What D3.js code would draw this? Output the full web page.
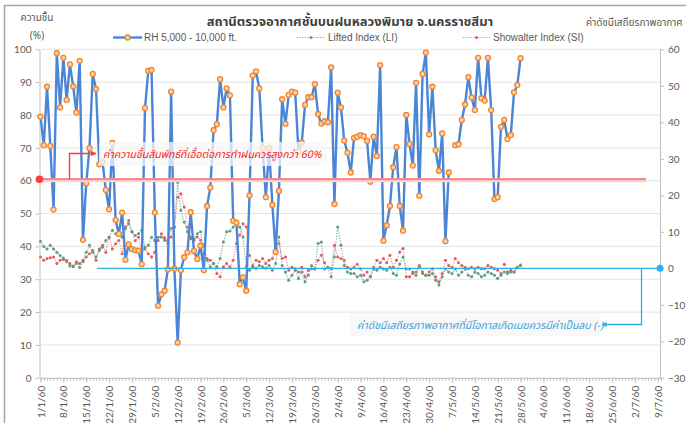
<!DOCTYPE html>
<html>
<head>
<meta charset="utf-8">
<script src="https://cdn.jsdelivr.net/npm/d3@7"></script>
<style>
  body { margin: 0; background: #fff; }
  svg { display: block; font-family: "Liberation Sans", Tahoma, "Noto Sans Thai", sans-serif; }
  .axis text { fill: #595959; font-size: 10px; }
  .axis path, .axis line { stroke: #bfbfbf; }
</style>
</head>
<body>
<svg id="chart"></svg>
<script>
const chartSize = { width: 686, height: 423 };
const plot = { left: 40.5, right: 661, top: 49.3, bottom: 377.8 };

// one value per day starting 1/1/60 (index 0)
const rh = [79.5, 70.8, 88.6, 70.6, 51.2, 98.8, 82.3, 97.4, 84.6, 95.4,
  88.7, 80.7, 96.5, 42, 59.2, 69.9, 92.5, 87.9, 65, 65.7,
  57.2, 51.3, 71.5, 48, 43.8, 50.3, 35.9, 40.6, 39.2, 38.8,
  38.7, 34.6, 82.1, 93.4, 93.7, 50.3, 21.9, 25.4, 26.5, 33,
  87.1, 33.2, 10.7, 32.8, 36.7, 38.2, 50.4, 38.6, 36.2, 40.2,
  32.8, 52.3, 57.9, 75.4, 77.2, 90.9, 82.3, 88.1, 86, 47.8,
  47.2, 28.5, 30.6, 26.5, 55.5, 92, 93.3, 88.1, 69.9, 55,
  69.9, 52.6, 38.3, 56.9, 84.8, 77.3, 86.1, 87.1, 86.8, 68.9,
  71.6, 83.1, 85.4, 85.4, 89.4, 80.3, 77.4, 78.1, 77.8, 94.5,
  52.9, 86.8, 82.3, 72.2, 68.5, 62.5, 73, 73.4, 73.9, 73.5,
  72.1, 59.7, 73.4, 67.5, 95.2, 41.7, 46.4, 52.3, 64.1, 70.2,
  52.3, 44.8, 80, 71.2, 64.6, 89.8, 55.4, 92.5, 99, 74.1,
  88.6, 69.3, 63, 74.4, 41.6, 62.5, null, 70.8, 71.1, 78.5,
  83.2, 91.5, 85.3, 81.5, 97.4, 85.1, 84.4, 97.4, 81.5, 54.4,
  55, 76.4, 78.5, 72.7, 73.9, 86.9, 89.1, 97.3];

const li = [7.4, 6, 5.3, 6.3, 5.3, 4.4, 3.5, 2.8, 2.2, 0.6,
  0.4, 1.3, 0.2, 2.2, 4.4, 6.3, 4.4, 3.1, 4.9, 5.8,
  7.6, 8.5, 10.4, 9.5, 10, 8.5, 10.9, 12.2, 10, 9,
  9.5, 10.4, 5.8, 6.3, 8.5, 7.6, 8.5, 8.6, 7.7, 6.8,
  10.9, 11.3, 23.6, 15.9, 12.7, 10, 8.6, 8.1, 9.5, 10,
  4, 2.2, 0.4, 1.3, 0.4, 2.7, 7.2, 10, 10.2, 11.3,
  12.2, 11.3, 8.6, 0.4, -0.5, 0.4, 0, 0.8, 0.4, 0,
  0.8, -0.5, 1.3, 8.6, 0.8, -1, -3.3, -1.9, -0.5, -2.8,
  -1, -3.7, -1.9, 0.8, -0.2, 6.8, 7.2, -0.2, 0.3, -2.3,
  3.1, 11.3, 6.3, 0.8, -1, -1.4, -1.4, -2.3, -1.9, -3.7,
  -3.3, -2.3, -0.2, -0.5, 0.3, -0.2, -0.5, 0.3, -1.4, -1.9,
  1.2, 3.1, -0.2, -0.2, -1, -1.9, 0.3, -1, -1.9, -1.9,
  -1.4, -3.3, -4.6, -2.3, -0.2, -1, -1.4, -0.2, -1.9, -1,
  -0.2, -1.9, -2.3, -1, -1.4, -2.3, -1.9, -1, -1.4, -1.9,
  -2.8, -1.9, -1, -1.4, -1, -1, 0.3, 0.8];

const si = [3.1, 2.2, 2.7, 2.9, 3.1, 1.3, 2.2, 2.4, 1.8, 1.3,
  0.6, 1.8, 1.3, 1.8, 3.1, 4, 4.9, 2.2, 5.3, 6.3,
  4.4, 8.5, 5.3, 6.7, 7.6, 4, 11.3, 13.1, 10, 7.6,
  8.5, 4.9, 5.3, 4, 3.1, 4.4, 7.6, 9.5, 8.4, 7.7,
  8.6, 11.3, 19.5, 20.4, 16.8, 11.3, 8.1, 7.7, 8.6, 7.7,
  6.3, 2.7, 2.2, 1.3, -1.4, -2.3, 0.4, 1.3, 0.4, 2.2,
  6.8, 9.1, 12.2, 11.3, 3.5, 0.8, 2.2, 1.8, 2.7, 1.3,
  2.2, 2.7, 5.3, 6.8, 2.7, 3.1, -0.5, 0.3, -0.1, -1,
  0.3, -2.3, -0.5, -0.1, -0.1, 2.2, 3.6, 1.5, 0.3, -0.1,
  6.3, 3.1, 2.7, 2.2, 0.3, -0.2, 0.3, 1.1, -0.1, -1.9,
  -1, -2.3, 0.3, 2.2, 1.5, 2.7, 1.5, 3.6, 0.3, 2.2,
  4.5, 5.4, -2.3, -2.3, -1.4, -1, 0.8, -1.4, -1.9, -1,
  -0.1, -2.3, -3.7, -1.4, 2.2, 0.8, 0.3, 2.7, 1.5, 0.8,
  0.3, -0.1, 0.3, -0.1, 0.3, -0.1, -0.1, 0.8, 0.3, -0.1,
  -0.5, -1.4, 1.1, -1, -0.5, -1, 0.3, 0.9];

const dayCount = 190;
const tickLabels = ["1/1/60", "8/1/60", "15/1/60", "22/1/60", "29/1/60", "5/2/60", "12/2/60",
  "19/2/60", "26/2/60", "5/3/60", "12/3/60", "19/3/60", "26/3/60", "2/4/60", "9/4/60",
  "16/4/60", "23/4/60", "30/4/60", "7/5/60", "14/5/60", "21/5/60", "28/5/60", "4/6/60",
  "11/6/60", "18/6/60", "25/6/60", "2/7/60", "9/7/60"];
const leftTicks = [0, 10, 20, 30, 40, 50, 60, 70, 80, 90, 100];
const rightTicks = [-30, -20, -10, 0, 10, 20, 30, 40, 50, 60];
const rhThreshold = 60;

const colors = { rh: "#4b86d6", marker: "#f0852d", markerFill: "#fbd2ac",
  li: "#72ab9c", liDot: "#5e9c86", si: "#f08c8c", siDot: "#e55a5a",
  red: "#ff3b3b", cyan: "#2db1e6" };

const thaiFont = "Tahoma, 'Noto Sans Thai', 'Leelawadee UI', sans-serif";

const x = d3.scaleLinear().domain([0, dayCount]).range([plot.left, plot.right]);
const yL = d3.scaleLinear().domain([0, 100]).range([plot.bottom, plot.top]);
const yR = d3.scaleLinear().domain([-30, 60]).range([plot.bottom, plot.top]);

const svg = d3.select("#chart")
  .attr("width", chartSize.width)
  .attr("height", chartSize.height);

const defs = svg.append("defs");
const arrow = (id, color) =>
  defs.append("marker").attr("id", id)
    .attr("viewBox", "0 0 10 10").attr("refX", 9).attr("refY", 5)
    .attr("markerWidth", 4).attr("markerHeight", 4).attr("orient", "auto")
    .append("path").attr("d", "M0,0L10,5L0,10Z").attr("fill", color);
arrow("arrRed", colors.red);
arrow("arrCyan", colors.cyan);

svg.append("rect")
  .attr("x", 4.5).attr("y", 5.5).attr("width", 690).attr("height", 430)
  .attr("fill", "#fff").attr("stroke", "#a6a6a6").attr("stroke-width", 1.5);

// gridlines
svg.append("g").selectAll("line").data(leftTicks.slice(1)).join("line")
  .attr("x1", plot.left).attr("x2", x(dayCount))
  .attr("y1", d => yL(d)).attr("y2", d => yL(d))
  .attr("stroke", "#e3e3e3");

// axes
svg.append("g").attr("class", "axis")
  .attr("transform", `translate(${plot.left - 1},0)`)
  .call(d3.axisLeft(yL).tickValues(leftTicks).tickSize(4).tickPadding(4).tickSizeOuter(0));

svg.append("g").attr("class", "axis")
  .attr("transform", `translate(${x(dayCount) - 1},0)`)
  .call(d3.axisRight(yR).tickValues(rightTicks).tickSize(4).tickPadding(4).tickSizeOuter(0));

svg.append("g").attr("class", "axis")
  .attr("transform", `translate(0,${plot.bottom})`)
  .call(d3.axisBottom(x).tickValues(d3.range(0, dayCount + 1)).tickSize(3).tickFormat("").tickSizeOuter(0));

const gBottom = svg.append("g").attr("class", "axis")
  .attr("transform", `translate(0,${plot.bottom})`)
  .call(d3.axisBottom(x).tickValues(tickLabels.map((_, i) => i * 7))
    .tickSize(5).tickSizeOuter(0).tickFormat(d => tickLabels[d / 7]));
gBottom.select(".domain").remove();
gBottom.selectAll("text")
  .attr("transform", "rotate(-90)")
  .attr("x", -8).attr("y", 0).attr("dy", "0.35em")
  .attr("text-anchor", "end");
svg.selectAll(".axis text").attr("font-family", "Lato, 'Liberation Sans', sans-serif");

// series
const series = svg.append("g");
const toPts = arr => arr.map((v, i) => ({ i, v }));

const siPts = toPts(si);
series.append("path")
  .attr("d", d3.line().x(d => x(d.i)).y(d => yR(d.v))(siPts))
  .attr("fill", "none").attr("stroke", colors.si).attr("stroke-width", 1.1)
  .attr("stroke-dasharray", "1.2,1.4");
series.append("g").selectAll("circle").data(siPts).join("circle")
  .attr("cx", d => x(d.i)).attr("cy", d => yR(d.v)).attr("r", 1.5)
  .attr("fill", colors.siDot);

const liPts = toPts(li);
series.append("path")
  .attr("d", d3.line().x(d => x(d.i)).y(d => yR(d.v))(liPts))
  .attr("fill", "none").attr("stroke", colors.li).attr("stroke-width", 1.1)
  .attr("stroke-dasharray", "1.2,1.4");
series.append("g").selectAll("circle").data(liPts).join("circle")
  .attr("cx", d => x(d.i)).attr("cy", d => yR(d.v)).attr("r", 1.5)
  .attr("fill", colors.liDot);

const rhPts = toPts(rh);
series.append("path")
  .attr("d", d3.line().defined(d => d.v != null).x(d => x(d.i)).y(d => yL(d.v))(rhPts))
  .attr("fill", "none").attr("stroke", colors.rh).attr("stroke-width", 2.4)
  .attr("stroke-linejoin", "round");
series.append("g").selectAll("circle").data(rhPts.filter(d => d.v != null)).join("circle")
  .attr("cx", d => x(d.i)).attr("cy", d => yL(d.v)).attr("r", 2.5)
  .attr("fill", colors.markerFill).attr("stroke", colors.marker).attr("stroke-width", 1.3);

// threshold line (RH 60%)
const yT = yL(rhThreshold) - 1.5;
svg.append("line").attr("x1", plot.left).attr("x2", 646).attr("y1", yT + 1).attr("y2", yT + 1)
  .attr("stroke", "#ffd0d0").attr("stroke-width", 4);
svg.append("line").attr("x1", plot.left).attr("x2", 646).attr("y1", yT).attr("y2", yT)
  .attr("stroke", "#ff7b7b").attr("stroke-width", 1.8);
svg.append("circle").attr("cx", plot.left - 1).attr("cy", yT).attr("r", 3.8).attr("fill", colors.red);
svg.append("path").attr("d", `M69.5,${yT}V153.5H96`)
  .attr("fill", "none").attr("stroke", colors.red).attr("stroke-width", 1.4)
  .attr("marker-end", "url(#arrRed)");

// zero line of stability index
const yZ = yR(0);
svg.append("line").attr("x1", 97).attr("x2", x(dayCount) - 1).attr("y1", yZ).attr("y2", yZ)
  .attr("stroke", colors.cyan).attr("stroke-width", 1.3);
svg.append("circle").attr("cx", x(dayCount) - 1).attr("cy", yZ).attr("r", 3.5).attr("fill", colors.cyan);
svg.append("path").attr("d", `M641.5,${yZ}V324.5H602`)
  .attr("fill", "none").attr("stroke", colors.cyan).attr("stroke-width", 1.3)
  .attr("marker-end", "url(#arrCyan)");

// callout boxes
svg.append("rect").attr("x", 99).attr("y", 142).attr("width", 228).attr("height", 24).attr("rx", 3)
  .attr("fill", "#f8f8f8").attr("fill-opacity", 0.75);
svg.append("text").attr("x", 103).attr("y", 158)
  .attr("font-family", thaiFont).attr("font-size", 10.5).attr("font-style", "italic")
  .attr("fill", "#ff2020").text("ค่าความชื้นสัมพัทธ์ที่เอื้อต่อการทำฝนควรสูงกว่า 60%");

svg.append("rect").attr("x", 350).attr("y", 313).attr("width", 250).attr("height", 23).attr("rx", 3)
  .attr("fill", "#f7f7f7").attr("fill-opacity", 0.85);
svg.append("text").attr("x", 357).attr("y", 328.5)
  .attr("font-family", thaiFont).attr("font-size", 10.5).attr("font-style", "italic")
  .attr("fill", "#3a9fd6").text("ค่าดัชนีเสถียรภาพอากาศที่มีโอกาสเกิดเมฆควรมีค่าเป็นลบ (-)");

// titles
svg.append("text").attr("x", 350).attr("y", 26).attr("text-anchor", "middle")
  .attr("font-family", thaiFont).attr("font-size", 13).attr("font-weight", "bold")
  .attr("fill", "#404040").text("สถานีตรวจอากาศชั้นบนฝนหลวงพิมาย จ.นครราชสีมา");
svg.append("text").attr("x", 37).attr("y", 21).attr("text-anchor", "middle")
  .attr("font-family", thaiFont).attr("font-size", 10).attr("fill", "#595959").text("ความชื้น");
svg.append("text").attr("x", 37).attr("y", 39).attr("text-anchor", "middle")
  .attr("font-family", thaiFont).attr("font-size", 10).attr("fill", "#595959").text("(%)");
svg.append("text").attr("x", 586).attr("y", 26)
  .attr("font-family", thaiFont).attr("font-size", 10).attr("fill", "#595959").text("ค่าดัชนีเสถียรภาพอากาศ");

// legend
const legendY = 37.5;
const legend = [
  { label: "RH 5,000 - 10,000 ft.", x0: 113, x1: 142, tx: 144, kind: "rh" },
  { label: "Lifted Index (LI)", x0: 297, x1: 325, tx: 328, kind: "li" },
  { label: "Showalter Index (SI)", x0: 463, x1: 490, tx: 493, kind: "si" }
];
const lg = svg.append("g").selectAll("g").data(legend).join("g");
lg.append("line").attr("x1", d => d.x0).attr("x2", d => d.x1)
  .attr("y1", legendY).attr("y2", legendY)
  .attr("stroke", d => colors[d.kind])
  .attr("stroke-width", d => d.kind === "rh" ? 2.4 : 1.1)
  .attr("stroke-dasharray", d => d.kind === "rh" ? null : "1.2,1.4");
lg.append("circle").attr("cx", d => (d.x0 + d.x1) / 2).attr("cy", legendY)
  .attr("r", d => d.kind === "rh" ? 2.5 : 1.5)
  .attr("fill", d => d.kind === "rh" ? colors.markerFill : d.kind === "li" ? colors.liDot : colors.siDot)
  .attr("stroke", d => d.kind === "rh" ? colors.marker : null)
  .attr("stroke-width", 1.3);
lg.append("text").attr("x", d => d.tx).attr("y", legendY + 3.6)
  .attr("font-size", 10).attr("fill", "#595959")
  .attr("font-family", "'Liberation Sans', sans-serif")
  .text(d => d.label);
</script>
</body>
</html>
